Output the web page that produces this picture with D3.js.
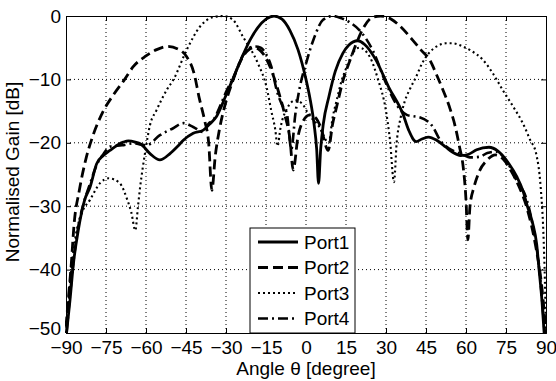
<!DOCTYPE html>
<html>
<head>
<meta charset="utf-8">
<script src="https://cdn.jsdelivr.net/npm/d3@7"></script>
<style>
  body { margin: 0; background: #fff; }
  text { font-family: "Liberation Sans", Arial, sans-serif; }
</style>
</head>
<body>
<svg id="chart" width="556" height="381"></svg>
<script>
// values
const xTicks = [-90, -75, -60, -45, -30, -15, 0, 15, 30, 45, 60, 75, 90];
const yTicks = [0, -10, -20, -30, -40, -50];
const portNames = ['Port1', 'Port2', 'Port3', 'Port4'];

const port1Deg  = [-89.8, -88.5, -87.2, -85.4, -83, -81, -78.5, -76, -73.5, -70.5, -68.5, -66.6, -64, -62, -58.5, -54.8, -51, -48, -46, -42.3, -38.5, -36, -33.5, -30, -27, -24, -21, -18, -15, -12, -9, -6, -3, 0, 1.5, 3, 4, 4.7, 5.5, 6.5, 8.6, 11, 13.8, 16, 19.4, 22, 26.3, 31, 36.3, 38.5, 41.3, 43.5, 46, 49, 52.5, 55, 58, 61, 64, 68.6, 72, 76.1, 79, 81.3, 83, 85, 86.5, 87.4, 88.5, 89.3];
const port1Gain = [-50, -44.8, -39, -33.8, -29, -27, -23.3, -22, -21.2, -20.3, -19.9, -19.7, -19.9, -20.2, -21.7, -22.7, -21.7, -20.5, -19.6, -18.5, -18, -17, -15.8, -12.5, -9.5, -6.5, -3.8, -1.8, -0.5, 0, -0.5, -2.3, -5.3, -10, -13, -17, -21, -26.4, -21, -17, -12.7, -8.7, -5.9, -4.6, -3.9, -4.5, -7, -11.2, -15.4, -18, -19.8, -19.4, -19.1, -19.6, -20.7, -21.5, -22, -21.8, -21.1, -20.7, -21.3, -23.3, -25.3, -27.5, -30, -32.7, -36, -40, -45, -50];

const port2Deg  = [-90, -89, -88, -87, -85, -82.5, -80, -76, -72, -68, -64.8, -60, -56, -52, -48, -44.8, -42, -40, -38, -36.5, -35.3, -34, -32.5, -30, -27.5, -25, -22, -19.5, -17, -14, -11, -8, -6, -4.8, -3, -1, 1.5, 3.5, 5.5, 8.3, 10, 11.5, 14, 16.5, 19, 21.5, 25, 28, 32, 35, 40, 43, 46.5, 49, 51.4, 54, 56, 57.5, 59, 60, 60.7, 61.5, 63, 65, 68, 71, 74, 77, 80, 83, 86, 88.5, 90];
const port2Gain = [-49, -44, -39, -33, -27.5, -22.5, -19, -15, -12.3, -10, -8, -6.3, -5.3, -4.8, -5.2, -6.4, -9, -13, -16.5, -20, -27.5, -22, -18, -13.5, -10.3, -7.5, -5.5, -5, -5.5, -7.5, -11, -15.5, -19.5, -24.3, -19, -16.5, -15.6, -16, -17.5, -21.2, -17, -14.3, -10, -7, -4.2, -1.9, -0.2, 0, -0.5, -1.5, -3.8, -5.3, -7, -9.3, -11.7, -14.6, -17.5, -20.5, -24, -29, -35.3, -30, -27, -24.5, -22.7, -21.9, -22.6, -24.5, -27, -30.5, -36, -43, -50];

const port3Deg  = [-90, -88.5, -86.5, -84, -81, -77.3, -74, -70, -67, -65.5, -64, -63, -62.2, -60.4, -58.5, -56, -52, -49.8, -44.8, -39.8, -35, -31, -27.4, -23.6, -18, -14.8, -13, -11.5, -10.7, -9.5, -7, -4, -1.5, 1, 5, 8.5, 10, 11.5, 13.5, 15.3, 17.6, 20, 24, 27, 30, 31.5, 33, 34, 35.5, 37, 39, 41.3, 43.5, 46, 49, 52.5, 55, 58.8, 62, 66.3, 70, 73.8, 78, 81.3, 84, 86.3, 88, 89, 89.6, 90];
const port3Gain = [-50, -42, -35, -31, -29, -26.4, -25.6, -26.3, -29, -31, -33.8, -30, -27, -21.7, -17.2, -14.8, -11.5, -10.1, -5.4, -1.7, -0.2, 0, -0.6, -3.3, -7.5, -11.2, -15, -18, -20.5, -17.5, -14.5, -13.3, -13.8, -15.5, -17.5, -20, -16, -13.3, -10, -8, -5.8, -5, -6.5, -10, -15, -19.6, -26.2, -20, -16, -13.5, -11.5, -9.6, -7.5, -5.9, -4.8, -4.3, -4.3, -4.8, -5.5, -6.9, -9, -11.7, -14.5, -16.9, -19.5, -21.7, -27, -34, -42, -50];

const port4Deg  = [-89.8, -88.5, -87, -85.5, -83, -81, -78.5, -76, -73.5, -69, -64.8, -59.8, -54.8, -49.8, -46, -42.3, -38.5, -36.6, -34.8, -32, -30, -27, -24, -21, -19, -17, -15, -13, -11, -9, -7.2, -5.5, -4, -2.3, 0, 3, 6.4, 10, 13, 16, 20.6, 25, 30, 34, 37.8, 40, 42.8, 47.6, 50.3, 54, 57.8, 62, 65.3, 68, 71.5, 74, 76.5, 79, 82.8, 85, 87.5, 89.5];
const port4Gain = [-50, -44, -38, -33.5, -29, -26.5, -23.5, -21.8, -20.6, -20.4, -20.1, -20.4, -18.8, -17.7, -16.9, -17.5, -18.3, -17, -16.4, -14, -12, -9.5, -6.5, -5, -4.8, -5, -6, -8, -11.7, -14, -15.3, -21, -15.5, -11.2, -7.5, -3.5, -0.6, 0, -0.3, -0.9, -2.5, -5.4, -10.6, -14, -15.6, -15.8, -16, -17.5, -19.6, -21, -21.7, -22.3, -22.2, -21.6, -21.4, -22.2, -23.8, -26, -29, -33, -40, -50];

const seriesDeg  = [port1Deg, port2Deg, port3Deg, port4Deg];
const seriesGain = [port1Gain, port2Gain, port3Gain, port4Gain];

const dashes = [null, '10,5', '2,3', '10,4,2,4'];
const widths = [2.8, 2.8, 2.1, 2.6];

const svg = d3.select('#chart');
const margin = { left: 66, top: 16, right: 10, bottom: 48 };
const width = 556 - margin.left - margin.right;
const height = 381 - margin.top - margin.bottom;

const x = d3.scaleLinear().domain([-90, 90]).range([0, width]);
const y = d3.scaleLinear().domain([-50, 0]).range([height, 0]);

const g = svg.append('g').attr('transform', `translate(${margin.left},${margin.top})`);

svg.append('defs').append('clipPath').attr('id', 'plotClip')
  .append('rect').attr('x', -1).attr('y', -1).attr('width', width + 2).attr('height', height + 2);

// grid
g.append('g').selectAll('line').data(xTicks.slice(1, -1)).enter().append('line')
  .attr('x1', d => x(d)).attr('x2', d => x(d)).attr('y1', 0).attr('y2', height)
  .attr('stroke', '#000').attr('stroke-width', 1).attr('stroke-dasharray', '1,3');
g.append('g').selectAll('line').data(yTicks.slice(1, -1)).enter().append('line')
  .attr('y1', d => y(d)).attr('y2', d => y(d)).attr('x1', 0).attr('x2', width)
  .attr('stroke', '#000').attr('stroke-width', 1).attr('stroke-dasharray', '1,3');

// curves
const line = d3.line()
  .x(d => x(d[0]))
  .y(d => y(d[1]))
  .curve(d3.curveMonotoneX);

const curves = g.append('g').attr('clip-path', 'url(#plotClip)');
seriesDeg.forEach((degs, i) => {
  const pts = degs.map((d, k) => [d, seriesGain[i][k]]);
  curves.append('path')
    .attr('d', line(pts))
    .attr('fill', 'none')
    .attr('stroke', '#000')
    .attr('stroke-width', widths[i])
    .attr('stroke-dasharray', dashes[i]);
});

// axes (ticks inside, like the reference)
const xAxis = g.append('g').attr('transform', `translate(0,${height})`)
  .call(d3.axisBottom(x).tickValues(xTicks).tickSize(-5).tickPadding(7));
const xTop = g.append('g')
  .call(d3.axisTop(x).tickValues(xTicks).tickSize(-5).tickFormat(''));
const yAxis = g.append('g')
  .call(d3.axisLeft(y).tickValues(yTicks).tickSize(-5).tickPadding(5));
const yRight = g.append('g').attr('transform', `translate(${width},0)`)
  .call(d3.axisRight(y).tickValues(yTicks).tickSize(-5).tickFormat(''));

[xAxis, xTop, yAxis, yRight].forEach(a => {
  a.select('.domain').attr('stroke', '#000').attr('stroke-width', 1);
  a.selectAll('.tick line').attr('stroke', '#000');
  a.selectAll('text')
    .attr('font-family', '"Liberation Sans", Arial, sans-serif')
    .attr('font-size', '19px')
    .attr('fill', '#000');
});
xAxis.selectAll('text').attr('dy', '0.72em');
// the -50 label sits slightly higher so it does not run into -90
yAxis.selectAll('.tick').filter(d => d === -50).select('text').attr('dy', '0.1em');

// axis titles
svg.append('text')
  .attr('x', 306).attr('y', 375)
  .attr('text-anchor', 'middle')
  .attr('font-size', '19px')
  .text('Angle θ [degree]');

svg.append('text')
  .attr('transform', 'translate(19,172) rotate(-90)')
  .attr('text-anchor', 'middle')
  .attr('font-size', '19px')
  .text('Normalised Gain [dB]');

// legend
const legend = g.append('g').attr('transform', `translate(${250 - margin.left},${228 - margin.top})`);
legend.append('rect')
  .attr('width', 105).attr('height', 105)
  .attr('fill', '#fff').attr('stroke', '#000').attr('stroke-width', 1);
portNames.forEach((name, i) => {
  const ly = 14 + i * 25.5;
  legend.append('line')
    .attr('x1', 8).attr('x2', 48).attr('y1', ly).attr('y2', ly)
    .attr('stroke', '#000')
    .attr('stroke-width', widths[i])
    .attr('stroke-dasharray', dashes[i]);
  legend.append('text')
    .attr('x', 54).attr('y', ly)
    .attr('dy', '0.35em')
    .attr('font-size', '19px')
    .text(name);
});
</script>
</body>
</html>
